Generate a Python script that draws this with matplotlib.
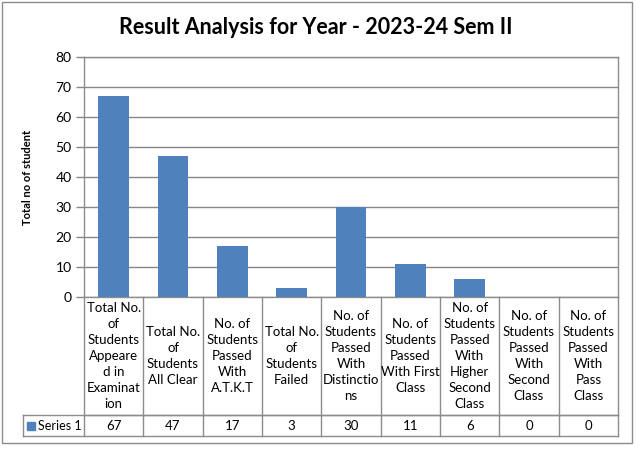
import numpy as np
import matplotlib.pyplot as plt
from matplotlib.lines import Line2D
from matplotlib.patches import Rectangle
import matplotlib.transforms as mtransforms

plt.rcParams['font.family'] = ['Lato', 'DejaVu Sans']

title = "Result Analysis for Year - 2023-24 Sem II"
ylabel = "Total no of student"
series_name = "Series 1"
categories = [
    "Total No.\nof\nStudents\nAppeare\nd in\nExaminat\nion",
    "Total No.\nof\nStudents\nAll Clear",
    "No. of\nStudents\nPassed\nWith\nA.T.K.T",
    "Total No.\nof\nStudents\nFailed",
    "No. of\nStudents\nPassed\nWith\nDistinctio\nns",
    "No. of\nStudents\nPassed\nWith First\nClass",
    "No. of\nStudents\nPassed\nWith\nHigher\nSecond\nClass",
    "No. of\nStudents\nPassed\nWith\nSecond\nClass",
    "No. of\nStudents\nPassed\nWith\nPass\nClass",
]
values = [67, 47, 17, 3, 30, 11, 6, 0, 0]
yticks = [0, 10, 20, 30, 40, 50, 60, 70, 80]

W, H = 638, 451
bar_color = "#4F81BD"
grid_color = "#868686"
line_color = "#8C8C8C"

fig = plt.figure(figsize=(W / 100, H / 100), dpi=100)

# plot area in pixels: left 84, right 618, top 57, bottom 297
l, r, t, b = 84, 618, 57, 297
ax = fig.add_axes([l / W, 1 - b / H, (r - l) / W, (b - t) / H])

x = np.arange(len(categories))
ax.bar(x, values, width=0.52, color=bar_color, zorder=3)
ax.set_xlim(-0.5, len(categories) - 0.5)
ax.set_ylim(0, 80)
ax.set_yticks(yticks)
ax.set_xticks([])
ax.tick_params(axis='y', length=6, width=1, color=grid_color, pad=3, labelsize=10)
ax.yaxis.grid(True, color=grid_color, linewidth=1, zorder=0)
for s in ax.spines.values():
    s.set_color(line_color)
    s.set_linewidth(1)

# y label and title
fig.text(28 / W, 1 - 177 / H, ylabel, rotation=90, ha='center', va='center',
         fontsize=8, fontweight='bold')
fig.text(316 / W, 1 - 27 / H, title, ha='center', va='center',
         fontsize=15.5, fontweight='bold')

# data table below the axes
px_per_unit = (b - t)
row1 = -(415 - b) / px_per_unit
row2 = -(436 - b) / px_per_unit
left_cell = (23 - l) / (r - l)
blend = mtransforms.blended_transform_factory(ax.transData, ax.transAxes)

def hline(x0, x1, y, trans):
    ax.add_line(Line2D([x0, x1], [y, y], transform=trans, color=line_color,
                       linewidth=1, clip_on=False))

def vline(xv, y0, y1, trans):
    ax.add_line(Line2D([xv, xv], [y0, y1], transform=trans, color=line_color,
                       linewidth=1, clip_on=False))

hline(0, 1, row1, ax.transAxes)
hline(left_cell, 1, row1, ax.transAxes)
hline(left_cell, 1, row2, ax.transAxes)
vline(left_cell, row1, row2, ax.transAxes)
for i in range(len(categories) + 1):
    vline(i - 0.5, 0, row2, blend)

for i, (c, v) in enumerate(zip(categories, values)):
    ax.text(i, row1 / 2, c, transform=blend, ha='center', va='center',
            fontsize=9.5, linespacing=1.4)
    ax.text(i, (row1 + row2) / 2, str(v), transform=blend, ha='center',
            va='center', fontsize=9.5)

# legend key in the table
key = Rectangle((27 / W, 1 - 430 / H), 8 / W, 8 / H, transform=fig.transFigure,
                color=bar_color)
fig.add_artist(key)
fig.text(38 / W, 1 - 426 / H, series_name, ha='left', va='center', fontsize=9)

# chart border
fig.add_artist(Rectangle((2 / W, 1 - 443 / H), 630 / W, 441 / H,
                         transform=fig.transFigure, fill=False,
                         edgecolor=line_color, linewidth=1))

fig.savefig("out.png", dpi=100)
